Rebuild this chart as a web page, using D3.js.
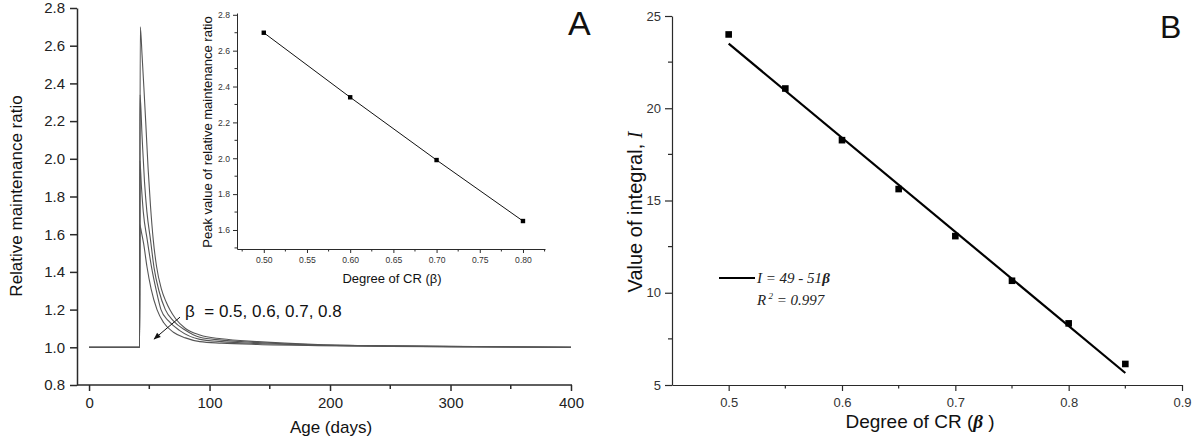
<!DOCTYPE html>
<html><head><meta charset="utf-8">
<script src="https://cdn.jsdelivr.net/npm/d3@7"></script>
<style>
html,body{margin:0;padding:0;background:#fff;}
svg{display:block;font-family:"Liberation Sans",Arial,sans-serif;}
</style></head>
<body><svg id="c" width="1200" height="448"></svg>
<script>
// ---- Panel A main: relative maintenance ratio vs age (days) ----
const betaLabels = ["0.5","0.6","0.7","0.8"];
const curve05 = [[0,1.0],[42,1.0],[42.5,2.70],[44,2.55],[45.5,2.38],[47,2.20],[49,1.95],[51,1.75],[53.3,1.57],[56,1.43],[60,1.31],[64,1.24],[67,1.20],[72,1.15],[80,1.10],[92,1.065],[110,1.045],[140,1.03],[190,1.015],[250,1.008],[320,1.004],[400,1.0]];
const curve06 = [[0,1.0],[42,1.0],[42.3,2.34],[44,2.12],[46,1.88],[48,1.72],[51,1.57],[54,1.42],[58,1.30],[63.3,1.20],[70,1.14],[80,1.09],[92,1.053],[110,1.038],[140,1.025],[190,1.013],[250,1.007],[320,1.003],[400,1.0]];
const curve07 = [[0,1.0],[42,1.0],[42.2,1.99],[43.5,1.85],[45,1.72],[48.3,1.57],[52,1.42],[55.5,1.31],[59.7,1.20],[66,1.14],[75,1.09],[92,1.042],[110,1.03],[140,1.02],[190,1.011],[250,1.006],[320,1.003],[400,1.0]];
const curve08 = [[0,1.0],[42,1.0],[42.1,1.65],[43.5,1.61],[45.3,1.55],[48,1.43],[51.5,1.31],[56.4,1.20],[62,1.13],[70,1.08],[80,1.05],[92,1.03],[110,1.022],[140,1.015],[190,1.009],[250,1.005],[320,1.002],[400,1.0]];
const mainXTicks = [0,100,200,300,400];
const mainYTicks = [0.8,1.0,1.2,1.4,1.6,1.8,2.0,2.2,2.4,2.6,2.8];

// ---- Panel A inset: peak value vs degree of CR ----
const insetBeta = [0.5,0.6,0.7,0.8];
const insetPeak = [2.70,2.34,1.99,1.65];
const insetXTicks = [0.50,0.55,0.60,0.65,0.70,0.75,0.80];
const insetYTicks = [1.6,1.8,2.0,2.2,2.4,2.6,2.8];

// ---- Panel B: value of integral vs degree of CR ----
const bBeta = [0.5,0.55,0.6,0.65,0.7,0.75,0.8,0.85];
const bIntegral = [24.0,21.07,18.27,15.62,13.07,10.65,8.34,6.14];
const fitBeta = [0.5,0.85];
const fitIntercept = 49, fitSlope = -51;
const bXTicks = [0.5,0.6,0.7,0.8,0.9];
const bYTicks = [5,10,15,20,25];

const svg = d3.select("#c");
const AX = "#2a2a2a";

function styleAxis(g, fs, col, sw){
  g.selectAll(".domain").attr("stroke",AX).attr("stroke-width",sw);
  g.selectAll(".tick line").attr("stroke",AX).attr("stroke-width",sw);
  g.selectAll(".tick text").attr("font-size",fs).attr("fill",col)
    .attr("font-family","'Liberation Sans',Arial,sans-serif");
}
function minorTicks(g, scale, vals, orient, size, sw){
  vals.forEach(v=>{
    if(orient==="bottom") g.append("line").attr("x1",scale(v)).attr("x2",scale(v)).attr("y1",0).attr("y2",size).attr("stroke",AX).attr("stroke-width",sw);
    else g.append("line").attr("y1",scale(v)).attr("y2",scale(v)).attr("x1",0).attr("x2",-size).attr("stroke",AX).attr("stroke-width",sw);
  });
}

// ===== Panel A main =====
const xA = d3.scaleLinear().domain([-10,400]).range([77,571]);
const yA = d3.scaleLinear().domain([0.8,2.8]).range([385,8]);

const gxA = svg.append("g").attr("transform","translate(0,385)")
  .call(d3.axisBottom(xA).tickValues(mainXTicks).tickSize(6).tickSizeOuter(0).tickPadding(6).tickFormat(d3.format("d")));
styleAxis(gxA,15,"#222",1.5);
gxA.select(".domain").attr("d",`M77,0H572`);
minorTicks(gxA,xA,[50,150,250,350],"bottom",4,1.5);

const gyA = svg.append("g").attr("transform","translate(77,0)")
  .call(d3.axisLeft(yA).tickValues(mainYTicks).tickSize(7).tickSizeOuter(0).tickPadding(5).tickFormat(d3.format(".1f")));
styleAxis(gyA,15,"#222",1.5);

const lineA = d3.line().x(d=>xA(d[0])).y(d=>yA(d[1])).curve(d3.curveMonotoneX);
[curve05,curve06,curve07,curve08].forEach(c=>{
  svg.append("path").datum(c).attr("d",lineA).attr("fill","none").attr("stroke","#555").attr("stroke-width",1.1);
});

svg.append("text").attr("transform","translate(22,196) rotate(-90)").attr("text-anchor","middle")
  .attr("font-size",17).attr("fill","#111").text("Relative maintenance ratio");
svg.append("text").attr("x",331).attr("y",433).attr("text-anchor","middle")
  .attr("font-size",17).attr("fill","#111").text("Age (days)");

// annotation
svg.append("defs").append("marker").attr("id","ah").attr("viewBox","0 0 10 10").attr("refX",9).attr("refY",5)
  .attr("markerWidth",9).attr("markerHeight",7).attr("orient","auto").attr("markerUnits","userSpaceOnUse")
  .append("path").attr("d","M0,1L10,5L0,9Z").attr("fill","#111");
svg.append("line").attr("x1",xA(75.5)).attr("y1",yA(1.16)).attr("x2",xA(54)).attr("y2",yA(1.044))
  .attr("stroke","#111").attr("stroke-width",1).attr("marker-end","url(#ah)");
svg.append("text").attr("x",185).attr("y",317).attr("font-size",17).attr("fill","#111")
  .attr("xml:space","preserve").text("β  = " + betaLabels.join(", "));

svg.append("text").attr("x",568).attr("y",35).attr("font-size",34).attr("fill","#111").text("A");

// ===== Panel A inset =====
const xI = d3.scaleLinear().domain([0.469,0.8255]).range([237,545]);
const yI = d3.scaleLinear().domain([1.494,2.81]).range([249,13]);
const gxI = svg.append("g").attr("transform","translate(0,249)")
  .call(d3.axisBottom(xI).tickValues(insetXTicks).tickSize(4).tickSizeOuter(0).tickPadding(4).tickFormat(d3.format(".2f")));
styleAxis(gxI,8.6,"#333",1);
minorTicks(gxI,xI,[0.475,0.525,0.575,0.625,0.675,0.725,0.775,0.825],"bottom",2.5,1);
const gyI = svg.append("g").attr("transform","translate(237,0)")
  .call(d3.axisLeft(yI).tickValues(insetYTicks).tickSize(4).tickSizeOuter(0).tickPadding(3).tickFormat(d3.format(".1f")));
styleAxis(gyI,8.6,"#333",1);
minorTicks(gyI,yI,[1.5,1.7,1.9,2.1,2.3,2.5,2.7],"left",2.5,1);

const insetData = insetBeta.map((b,i)=>[b,insetPeak[i]]);
svg.append("path").datum(insetData).attr("d",d3.line().x(d=>xI(d[0])).y(d=>yI(d[1])))
  .attr("fill","none").attr("stroke","#111").attr("stroke-width",1);
svg.selectAll(".ip").data(insetData).enter().append("rect")
  .attr("x",d=>xI(d[0])-2.2).attr("y",d=>yI(d[1])-2.2).attr("width",4.4).attr("height",4.4).attr("fill","#000");

svg.append("text").attr("transform","translate(212,132) rotate(-90)").attr("text-anchor","middle")
  .attr("font-size",13).attr("fill","#111").text("Peak value of relative maintenance ratio");
svg.append("text").attr("x",392).attr("y",283).attr("text-anchor","middle")
  .attr("font-size",13).attr("fill","#111").text("Degree of CR (β)");

// ===== Panel B =====
const xB = d3.scaleLinear().domain([0.45,0.9]).range([672,1182]);
const yB = d3.scaleLinear().domain([5,25]).range([385,16]);
const gxB = svg.append("g").attr("transform","translate(0,385)")
  .call(d3.axisBottom(xB).tickValues(bXTicks).tickSize(6).tickSizeOuter(0).tickPadding(7).tickFormat(d3.format(".1f")));
styleAxis(gxB,13,"#333",1.2);
minorTicks(gxB,xB,[0.55,0.65,0.75,0.85],"bottom",3.5,1.2);
const gyB = svg.append("g").attr("transform","translate(672,0)")
  .call(d3.axisLeft(yB).tickValues(bYTicks).tickSize(7).tickSizeOuter(0).tickPadding(4).tickFormat(d3.format("d")));
styleAxis(gyB,13,"#333",1.2);
minorTicks(gyB,yB,[7.5,12.5,17.5,22.5],"left",4,1.2);

const fitData = fitBeta.map(b=>[b, fitIntercept + fitSlope*b]);
svg.append("path").datum(fitData).attr("d",d3.line().x(d=>xB(d[0])).y(d=>yB(d[1])))
  .attr("fill","none").attr("stroke","#000").attr("stroke-width",2.2);
svg.selectAll(".bp").data(bBeta.map((b,i)=>[b,bIntegral[i]])).enter().append("rect")
  .attr("x",d=>xB(d[0])-3.3).attr("y",d=>yB(d[1])-3.3).attr("width",6.6).attr("height",6.6).attr("fill","#000");

// legend
svg.append("line").attr("x1",719).attr("x2",755).attr("y1",278).attr("y2",278).attr("stroke","#000").attr("stroke-width",2.2);
const serif = "'Liberation Serif','Times New Roman',serif";
const t1 = svg.append("text").attr("x",757).attr("y",283).attr("font-size",15).attr("font-family",serif).attr("font-style","italic").attr("fill","#222");
t1.append("tspan").text("I");
t1.append("tspan").text(" = 49 - 51");
t1.append("tspan").attr("font-weight","bold").text("β");
const t2 = svg.append("text").attr("x",757).attr("y",305).attr("font-size",15).attr("font-family",serif).attr("font-style","italic").attr("fill","#222");
t2.append("tspan").text("R");
t2.append("tspan").attr("dy",-6).attr("font-size",9).text(" 2");
t2.append("tspan").attr("dy",6).text(" = 0.997");

const yl = svg.append("text").attr("transform","translate(642,212) rotate(-90)").attr("text-anchor","middle")
  .attr("font-size",20).attr("fill","#111");
yl.append("tspan").text("Value of integral, ");
yl.append("tspan").attr("font-family",serif).attr("font-style","italic").text("I");
const xl = svg.append("text").attr("x",920).attr("y",428).attr("text-anchor","middle").attr("font-size",19).attr("fill","#111");
xl.append("tspan").text("Degree of CR (");
xl.append("tspan").attr("font-family",serif).attr("font-style","italic").attr("font-weight","bold").text("β");
xl.append("tspan").text(" )");

svg.append("text").attr("x",1160).attr("y",38).attr("font-size",32).attr("fill","#111").text("B");
</script></body></html>
